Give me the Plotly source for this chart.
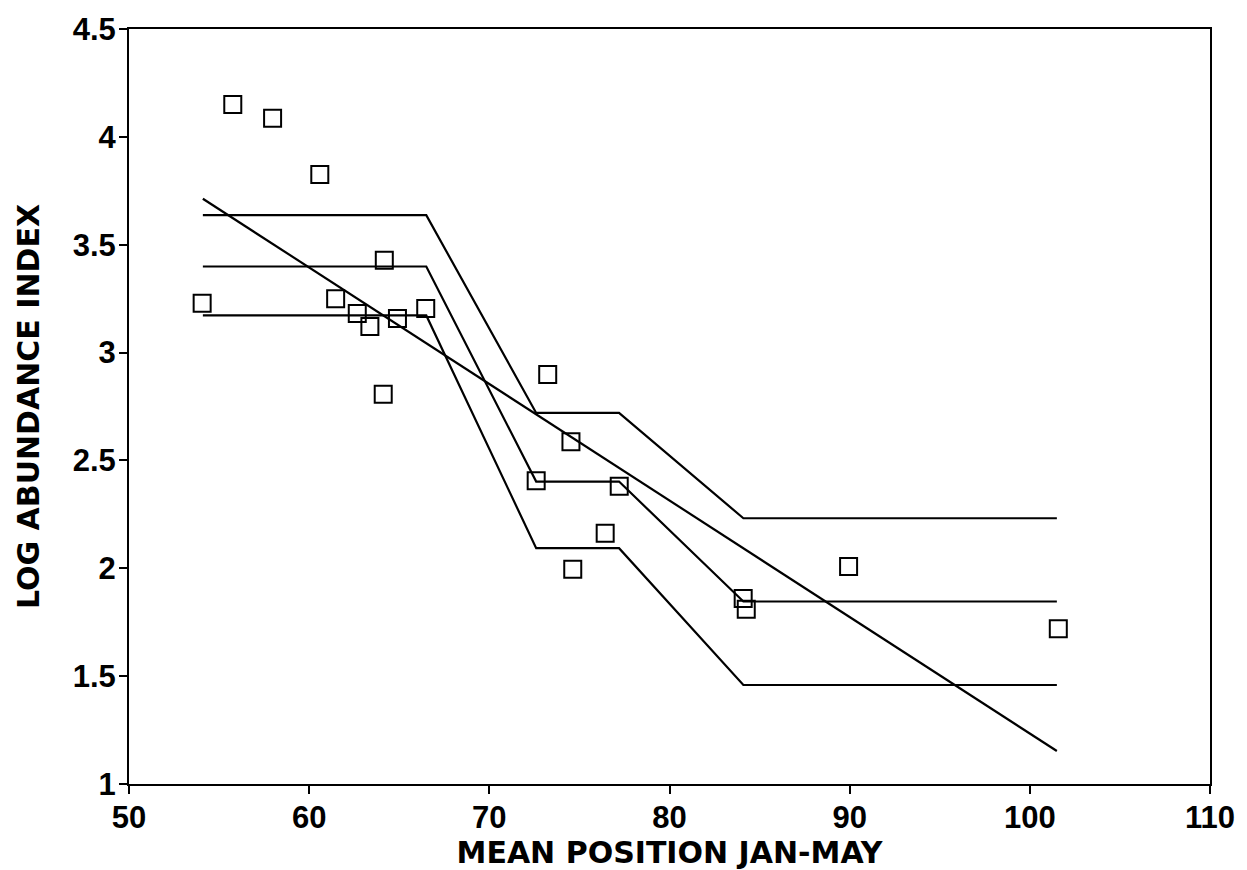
import plotly.graph_objects as go

# Observed points
x_pts = [54.06, 55.76, 57.97, 60.59, 61.47, 62.67, 63.37, 64.17, 64.90, 64.11, 66.47,
         73.24, 74.53, 72.60, 77.21, 76.43, 74.63, 84.09, 84.26, 89.94, 101.58]
y_pts = [3.229, 4.150, 4.086, 3.825, 3.249, 3.181, 3.121, 3.428, 3.158, 2.807, 3.204,
         2.898, 2.587, 2.406, 2.380, 2.162, 1.996, 1.860, 1.810, 2.008, 1.720]

# Step model (mean and bands)
x_step = [54.1, 66.5, 72.6, 77.2, 84.1, 101.5]
y_upper = [3.637, 3.637, 2.720, 2.720, 2.232, 2.232]
y_mid = [3.399, 3.399, 2.402, 2.402, 1.846, 1.846]
y_lower = [3.172, 3.172, 2.093, 2.093, 1.459, 1.459]

# Linear regression line
x_lin = [54.1, 101.5]
y_lin = [3.713, 1.153]

x_ticks = [50, 60, 70, 80, 90, 100, 110]
y_ticks = [1, 1.5, 2, 2.5, 3, 3.5, 4, 4.5]
y_tick_labels = ["1", "1.5", "2", "2.5", "3", "3.5", "4", "4.5"]

fig = go.Figure()
line_style = dict(color="black", width=2.2)
for ys in (y_upper, y_mid, y_lower):
    fig.add_trace(go.Scatter(x=x_step, y=ys, mode="lines", line=line_style,
                             showlegend=False, hoverinfo="skip"))
fig.add_trace(go.Scatter(x=x_lin, y=y_lin, mode="lines", line=line_style,
                         showlegend=False, hoverinfo="skip"))
fig.add_trace(go.Scatter(x=x_pts, y=y_pts, mode="markers",
                         marker=dict(symbol="square-open", size=17, color="black",
                                     line=dict(color="black", width=2)),
                         showlegend=False))

tick_fam = "Liberation Sans, Arial, sans-serif"
title_fam = "DejaVu Sans, sans-serif"
fig.update_layout(
    width=1247, height=870,
    margin=dict(l=129, r=34, t=24, b=85),
    paper_bgcolor="white", plot_bgcolor="white",
    font=dict(family=tick_fam, color="black"),
)
fig.update_xaxes(
    range=[50, 110], tickvals=x_ticks, ticktext=[str(v) for v in x_ticks],
    showgrid=False, zeroline=False,
    showline=True, linecolor="black", linewidth=2, mirror=True,
    ticks="outside", ticklen=8, tickwidth=2, tickcolor="black",
    tickfont=dict(size=31, family=tick_fam, weight="bold"),
    ticklabelstandoff=-3,
    title=dict(text="MEAN POSITION JAN-MAY", standoff=2,
               font=dict(size=30, family=title_fam, weight="bold")),
)
fig.update_yaxes(
    range=[1, 4.5], tickvals=y_ticks, ticktext=y_tick_labels,
    showgrid=False, zeroline=False,
    showline=True, linecolor="black", linewidth=2, mirror=True,
    ticks="outside", ticklen=8, tickwidth=2, tickcolor="black",
    tickfont=dict(size=31, family=tick_fam, weight="bold"),
    ticklabelstandoff=-3,
    title=dict(text="LOG ABUNDANCE INDEX", standoff=24,
               font=dict(size=30, family=title_fam, weight="bold")),
)

fig.write_html("out.html")
